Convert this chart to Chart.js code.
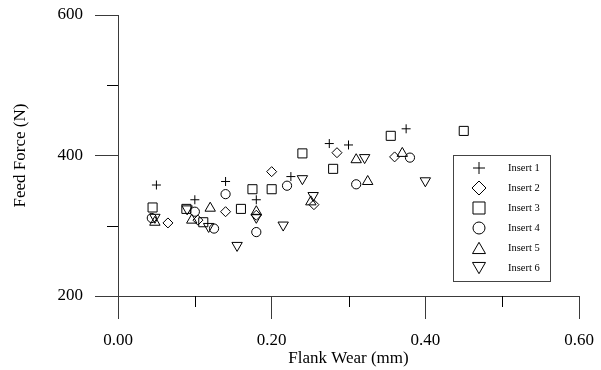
<!DOCTYPE html>
<html>
<head>
<meta charset="utf-8">
<script src="https://cdn.jsdelivr.net/npm/chart.js@4.4.1/dist/chart.umd.min.js"></script>
<style>
  html, body { margin: 0; padding: 0; background: #ffffff; }
  #wrap { width: 601px; height: 370px; }
</style>
</head>
<body>
<div id="wrap"><canvas id="c" width="601" height="370"></canvas></div>
<script>
// ---- data ----
const seriesNames = ['Insert 1', 'Insert 2', 'Insert 3', 'Insert 4', 'Insert 5', 'Insert 6'];

const insert1X = [0.050, 0.100, 0.140, 0.180, 0.225, 0.275, 0.300, 0.375];
const insert1Y = [358, 337, 363, 337, 370, 417, 415, 438];

const insert2X = [0.065, 0.104, 0.140, 0.180, 0.200, 0.255, 0.285, 0.360];
const insert2Y = [304, 308, 320, 315, 377, 330, 404, 398];

const insert3X = [0.045, 0.089, 0.111, 0.160, 0.175, 0.200, 0.240, 0.280, 0.355, 0.450];
const insert3Y = [326, 324, 305, 324, 352, 352, 403, 381, 428, 435];

const insert4X = [0.044, 0.100, 0.125, 0.140, 0.180, 0.220, 0.310, 0.380];
const insert4Y = [311, 320, 296, 345, 291, 357, 359, 397];

const insert5X = [0.048, 0.096, 0.120, 0.180, 0.251, 0.310, 0.325, 0.370];
const insert5Y = [305, 308, 325, 320, 334, 394, 363, 403];

const insert6X = [0.048, 0.090, 0.118, 0.155, 0.180, 0.215, 0.240, 0.254, 0.321, 0.400];
const insert6Y = [312, 324, 299, 272, 312, 301, 367, 343, 397, 364];

const xMajorTicks = [0, 0.2, 0.4, 0.6];
const xMinorTicks = [0.1, 0.3, 0.5];
const yMajorTicks = [200, 400, 600];
const yMinorTicks = [300, 500];

// ---- styling ----
const FONT = "'Liberation Serif', 'Times New Roman', Times, serif";
const AXIS_COLOR = '#3a3a3a';

const markers = [
  { style: 'cross',    rot: 0,   r: 4.5, lr: 6 },
  { style: 'rectRot',  rot: 0,   r: 5,   lr: 7 },
  { style: 'rect',     rot: 0,   r: 6.4, lr: 8.5 },
  { style: 'circle',   rot: 0,   r: 4.6, lr: 6 },
  { style: 'triangle', rot: 0,   r: 6,   lr: 7.5 },
  { style: 'triangle', rot: 180, r: 6,   lr: 7.5 }
];

function pts(xs, ys) { return xs.map((x, i) => ({ x: x, y: ys[i] })); }
const allX = [insert1X, insert2X, insert3X, insert4X, insert5X, insert6X];
const allY = [insert1Y, insert2Y, insert3Y, insert4Y, insert5Y, insert6Y];

const datasets = seriesNames.map((name, i) => ({
  label: name,
  data: pts(allX[i], allY[i]),
  showLine: false,
  pointStyle: markers[i].style,
  pointRotation: markers[i].rot,
  pointRadius: markers[i].r,
  pointHoverRadius: markers[i].r,
  pointBorderColor: '#000000',
  pointBackgroundColor: 'rgba(0,0,0,0)',
  pointBorderWidth: 1
}));

function zeroPadding(scale) {
  scale.paddingTop = 0; scale.paddingBottom = 0;
  scale.paddingLeft = 0; scale.paddingRight = 0;
}

// minor ticks drawn through the chart's own scales
const minorTicksPlugin = {
  id: 'minorTicks',
  afterDraw(chart) {
    const ctx = chart.ctx;
    const xs = chart.scales.x, ys = chart.scales.y;
    const area = chart.chartArea;
    ctx.save();
    ctx.strokeStyle = '#000000';
    ctx.lineWidth = 1;
    ctx.beginPath();
    xMinorTicks.forEach(v => {
      const px = Math.round(xs.getPixelForValue(v)) + 0.5;
      ctx.moveTo(px, area.bottom);
      ctx.lineTo(px, area.bottom + 11);
    });
    yMinorTicks.forEach(v => {
      const py = Math.round(ys.getPixelForValue(v)) + 0.5;
      ctx.moveTo(area.left - 11, py);
      ctx.lineTo(area.left, py);
    });
    ctx.stroke();
    ctx.restore();
  }
};

// boxed legend inside the plot
const boxLegendPlugin = {
  id: 'boxLegend',
  afterDraw(chart) {
    const ctx = chart.ctx;
    const bx = 453, by = 155, bw = 97, bh = 126;
    ctx.save();
    ctx.strokeStyle = '#444444';
    ctx.lineWidth = 1;
    ctx.strokeRect(bx + 0.5, by + 0.5, bw, bh);
    ctx.font = "10.5px " + FONT;
    ctx.textBaseline = 'middle';
    ctx.textAlign = 'left';
    chart.data.datasets.forEach((ds, i) => {
      const cy = 168 + i * 20;
      const m = markers[i];
      ctx.strokeStyle = '#000000';
      ctx.fillStyle = 'rgba(0,0,0,0)';
      ctx.lineWidth = 1;
      Chart.helpers.drawPoint(ctx, {
        pointStyle: m.style, rotation: m.rot, radius: m.lr, borderWidth: 1
      }, 479, cy + (m.style === 'triangle' ? (m.rot ? -1.8 : 1.8) : 0));
      ctx.fillStyle = '#000000';
      ctx.fillText(ds.label, 508, cy + 0.5);
    });
    ctx.restore();
  }
};

new Chart(document.getElementById('c'), {
  type: 'scatter',
  data: { datasets: datasets },
  options: {
    responsive: false,
    animation: false,
    devicePixelRatio: 1,
    layout: { padding: { left: 0, top: 15, right: 22, bottom: 0 } },
    plugins: {
      legend: { display: false },
      tooltip: { enabled: false }
    },
    scales: {
      x: {
        type: 'linear',
        position: 'bottom',
        min: 0,
        max: 0.6,
        afterFit(scale) { scale.height = 74; zeroPadding(scale); },
        afterBuildTicks(scale) { scale.ticks = xMajorTicks.map(v => ({ value: v })); },
        grid: { drawOnChartArea: false, drawTicks: true, tickLength: 23, tickColor: AXIS_COLOR, lineWidth: 1 },
        border: { display: true, color: AXIS_COLOR, width: 1 },
        ticks: {
          padding: 11,
          color: '#000000',
          maxRotation: 0,
          font: { family: FONT, size: 17 },
          callback: (v) => Number(v).toFixed(2)
        },
        title: {
          display: true,
          text: 'Flank Wear (mm)',
          color: '#000000',
          font: { family: FONT, size: 17 },
          padding: { top: 0, bottom: 1 }
        }
      },
      y: {
        type: 'linear',
        position: 'left',
        min: 200,
        max: 600,
        afterFit(scale) { scale.width = 118; zeroPadding(scale); },
        afterBuildTicks(scale) { scale.ticks = yMajorTicks.map(v => ({ value: v })); },
        grid: { drawOnChartArea: false, drawTicks: true, tickLength: 23, tickColor: AXIS_COLOR, lineWidth: 1 },
        border: { display: true, color: AXIS_COLOR, width: 1 },
        ticks: {
          padding: 12,
          color: '#000000',
          font: { family: FONT, size: 17 },
          callback: (v) => String(v)
        },
        title: {
          display: true,
          text: 'Feed Force (N)',
          color: '#000000',
          font: { family: FONT, size: 17 },
          padding: { top: 10, bottom: 0 }
        }
      }
    }
  },
  plugins: [minorTicksPlugin, boxLegendPlugin]
});
</script>
</body>
</html>
